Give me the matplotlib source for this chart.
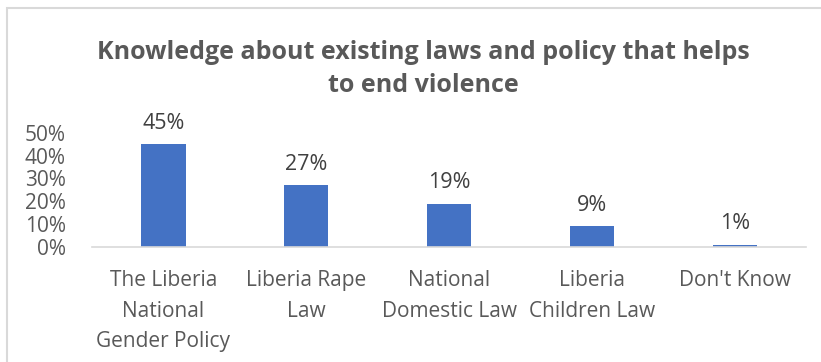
import matplotlib.pyplot as plt
from matplotlib.patches import Rectangle
from matplotlib.ticker import PercentFormatter

categories = ["The Liberia\nNational\nGender Policy", "Liberia Rape\nLaw",
              "National\nDomestic Law", "Liberia\nChildren Law", "Don't Know"]
values = [0.45, 0.27, 0.19, 0.09, 0.01]
value_labels = ["45%", "27%", "19%", "9%", "1%"]
y_ticks = [0, 0.1, 0.2, 0.3, 0.4, 0.5]

plt.rcParams['font.family'] = ['Open Sans', 'DejaVu Sans']
text_color = "#595959"

fig = plt.figure(figsize=(8.21, 3.62), dpi=100)
ax = fig.add_axes([0.112, 0.318, 0.870, 0.315])

# chart frame (cut off on the right and bottom in the original)
fig.patches.append(Rectangle((7 / 821, -0.05), 1.0, 1 - 8 / 362 + 0.05,
                             transform=fig.transFigure, fill=False,
                             edgecolor="#d9d9d9", linewidth=1.5))

x = range(len(categories))
ax.bar(x, values, width=0.31, color="#4472c4")
for i, v in enumerate(values):
    ax.text(i, v + 0.045, value_labels[i], ha='center', va='bottom',
            fontsize=15.5, color="#404040")

ax.set_xlim(-0.5, len(categories) - 0.5)
ax.set_ylim(0, 0.5)
ax.set_yticks(y_ticks)
ax.yaxis.set_major_formatter(PercentFormatter(1.0, decimals=0))
ax.set_xticks(list(x))
ax.set_xticklabels(categories, fontsize=15, color=text_color, linespacing=1.58)
ax.tick_params(axis='y', labelsize=15, labelcolor=text_color, length=0, pad=19)
ax.tick_params(axis='x', length=0, pad=17)
for side in ['top', 'right', 'left']:
    ax.spines[side].set_visible(False)
ax.spines['bottom'].set_color("#d9d9d9")
ax.spines['bottom'].set_linewidth(1.2)

fig.text(0.516, 0.81, "Knowledge about existing laws and policy that helps\nto end violence",
         ha='center', va='center', fontsize=18, fontweight='bold', color=text_color,
         linespacing=1.4)

fig.savefig("out.png", dpi=100)
